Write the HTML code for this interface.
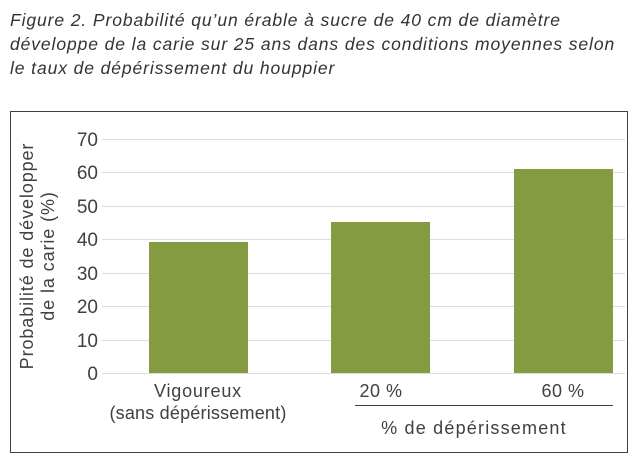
<!DOCTYPE html>
<html><head><meta charset="utf-8"><style>
body{margin:0;background:#fff;width:641px;height:467px;overflow:hidden}
.t{position:absolute;left:10px;top:8px;font-family:"Liberation Sans",sans-serif;font-style:italic;font-size:17.5px;letter-spacing:0.9px;line-height:24px;color:#333;white-space:nowrap}
</style></head><body>
<div class="t">Figure 2. Probabilité qu’un érable à sucre de 40 cm de diamètre<br>développe de la carie sur 25 ans dans des conditions moyennes selon<br>le taux de dépérissement du houppier</div>
<svg width="641" height="467" style="position:absolute;left:0;top:0" font-family="Liberation Sans, sans-serif" fill="#404040">
<rect x="10.5" y="111.5" width="617" height="341" fill="none" stroke="#404040" stroke-width="1"/>
<g stroke="#dcdcdc" stroke-width="1">
<line x1="102" x2="625" y1="139.5" y2="139.5"/><line x1="102" x2="625" y1="172.5" y2="172.5"/>
<line x1="102" x2="625" y1="206.5" y2="206.5"/><line x1="102" x2="625" y1="239.5" y2="239.5"/>
<line x1="102" x2="625" y1="273.5" y2="273.5"/><line x1="102" x2="625" y1="306.5" y2="306.5"/>
<line x1="102" x2="625" y1="340.5" y2="340.5"/><line x1="102" x2="625" y1="373.5" y2="373.5"/>
</g>
<g fill="#859b41">
<rect x="149" y="242" width="99" height="131"/>
<rect x="331" y="222" width="99" height="151"/>
<rect x="514" y="169" width="99" height="204"/>
</g>
<g font-size="19" text-anchor="end">
<text x="98" y="146">70</text><text x="98" y="179">60</text><text x="98" y="213">50</text>
<text x="98" y="246">40</text><text x="98" y="280">30</text><text x="98" y="313">20</text>
<text x="98" y="347">10</text><text x="98" y="380">0</text>
</g>
<g font-size="18" text-anchor="middle">
<text transform="translate(33,256) rotate(-90)" letter-spacing="0.9">Probabilité de développer</text>
<text transform="translate(54,256) rotate(-90)" letter-spacing="0.9">de la carie (%)</text>
<text x="198" y="397" letter-spacing="0.8">Vigoureux</text>
<text x="198" y="419" letter-spacing="0.2">(sans dépérissement)</text>
<text x="381" y="397" letter-spacing="0.5">20 %</text>
<text x="563" y="397" letter-spacing="0.5">60 %</text>
<text x="474" y="434" letter-spacing="1.2">% de dépérissement</text>
</g>
<line x1="355" x2="613" y1="405.5" y2="405.5" stroke="#404040" stroke-width="1"/>
</svg>
</body></html>
